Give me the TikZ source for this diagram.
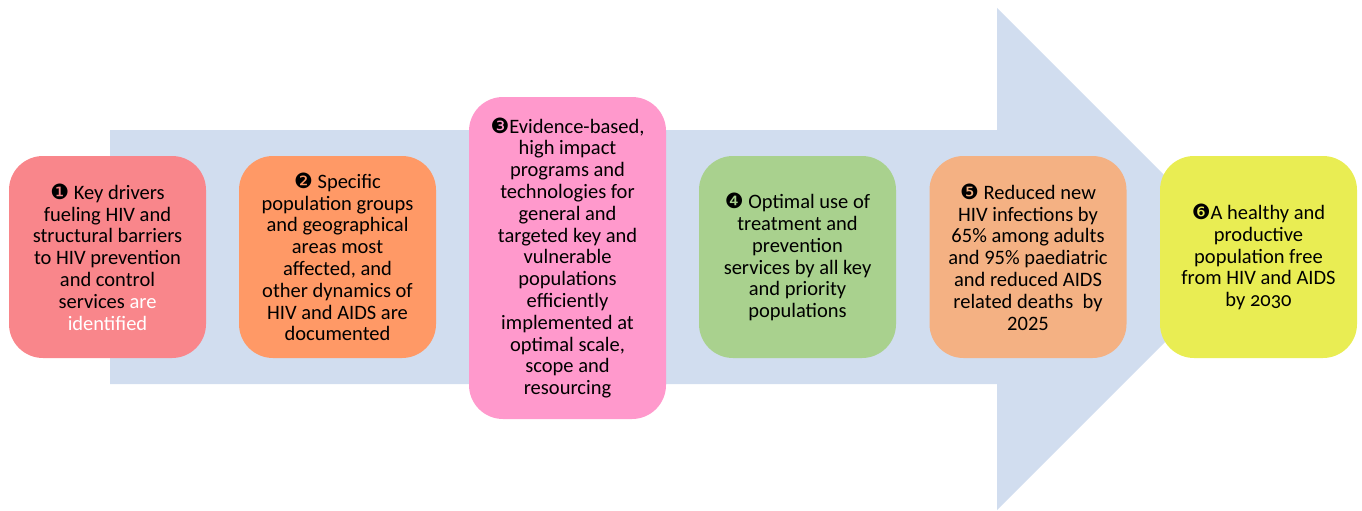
\documentclass[tikz,border=0pt]{standalone}
\usepackage{fontspec}
\setmainfont{Carlito}
\newfontfamily\sym{DejaVu Sans}
\definecolor{arrowc}{RGB}{209,221,239}
\definecolor{cA}{RGB}{249,134,139}
\definecolor{cB}{RGB}{255,153,102}
\definecolor{cC}{RGB}{255,153,204}
\definecolor{cD}{RGB}{169,209,142}
\definecolor{cE}{RGB}{244,177,131}
\definecolor{cF}{RGB}{233,237,83}
\tikzset{
  stagebox/.style={rounded corners=34pt, minimum width=197pt, minimum height=202pt,
    inner sep=2pt, align=center, font=\fontsize{20.5pt}{21.8pt}\selectfont, text=black},
}
\newcommand{\nm}[1]{{\sym\fontsize{21pt}{21pt}\selectfont #1}}
\begin{document}
\begin{tikzpicture}[x=1pt,y=-1pt]
\useasboundingbox (0,0) rectangle (1362,511);
\fill[arrowc] (110,130) -- (997,130) -- (997,8) -- (1248,259) -- (997,510) -- (997,384) -- (110,384) -- cycle;
\node[stagebox, fill=cA] (b1) at (107.5,257) {\nm{❶} Key drivers\\fueling HIV and\\structural barriers\\to HIV prevention\\and control\\services \textcolor{white}{are}\\\textcolor{white}{identified}};
\node[stagebox, fill=cB] (b2) at (337.5,257) {\nm{❷} Specific\\population groups\\and geographical\\areas most\\affected, and\\other dynamics of\\HIV and AIDS are\\documented};
\node[stagebox, fill=cC, minimum height=322pt] (b3) at (567.5,258) {\nm{❸}Evidence-based,\\high impact\\programs and\\technologies for\\general and\\targeted key and\\vulnerable\\populations\\efficiently\\implemented at\\optimal scale,\\scope and\\resourcing};
\node[stagebox, fill=cD] (b4) at (797.5,257) {\nm{❹} Optimal use of\\treatment and\\prevention\\services by all key\\and priority\\populations};
\node[stagebox, fill=cE] (b5) at (1028,257) {\nm{❺} Reduced new\\HIV infections by\\65\% among adults\\and 95\% paediatric\\and reduced AIDS\\related deaths\ \ by\\2025};
\node[stagebox, fill=cF] (b6) at (1258.5,257) {\nm{❻}A healthy and\\productive\\population free\\from HIV and AIDS\\by {\addfontfeature{Numbers=OldStyle}2030}};
\end{tikzpicture}
\end{document}
